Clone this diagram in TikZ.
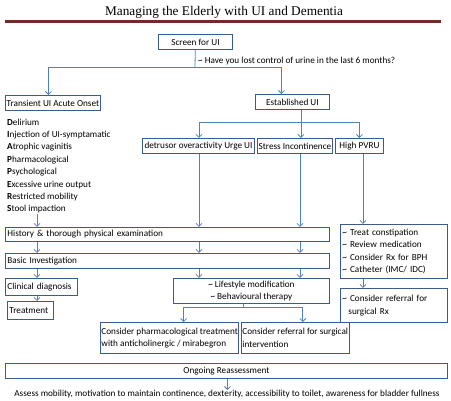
\documentclass[tikz,border=0pt]{standalone}
\usepackage{fontspec}
\setmainfont{Carlito}
\newfontfamily\titlefont{Liberation Serif}
\usepackage{xcolor}
\definecolor{boxline}{RGB}{56,93,138}
\definecolor{flow}{RGB}{79,129,189}
\definecolor{titlerule}{RGB}{118,40,40}
\usepackage{tikz}
\usetikzlibrary{arrows.meta, positioning, calc}

\begin{document}
\begin{tikzpicture}[x=1pt, y=-1pt,
        box/.style={draw=boxline, line width=0.9pt, anchor=north west, inner xsep=2pt, inner ysep=0pt, font=\fontsize{9.2}{12.4}\selectfont},
        lbox/.style={box, align=left, text width=#1},
        arr/.style={draw=flow, line width=0.8pt, -{Straight Barb[length=3pt, width=6pt]}},
        link/.style={draw=flow, line width=0.8pt},
        plain/.style={inner sep=0pt, font=\fontsize{9.2}{12.4}\selectfont}
    ]
        \useasboundingbox (0,0) rectangle (451,401);

        % title
        \node[font=\titlefont\fontsize{13.3}{15}\selectfont] (title) at (224,12) {Managing the Elderly with UI and Dementia};
        \draw[titlerule, line width=3] (5,22) -- (441,22);

        % screening
        \node[box, minimum width=74, minimum height=15] (screen) at (158,34) {Screen for UI};
        \node[plain, anchor=west] (question) at (198,61) {\textasciitilde{} Have you lost control of urine in the last 6 months?};

        \node[box, minimum width=95, minimum height=15, inner xsep=1pt] (transient) at (5,95) {Transient UI Acute Onset};
        \node[box, minimum width=74, minimum height=15] (established) at (255,94) {Established UI};

        \node[plain, anchor=north west, align=left] (mnemonic) at (7,118.5) {
            \textbf{D}elirium\\
            \textbf{I}njection of UI-symptamatic\\
            \textbf{A}trophic vaginitis\\
            \textbf{P}harmacological\\
            \textbf{P}sychological\\
            \textbf{E}xcessive urine output\\
            \textbf{R}estricted mobility\\
            \textbf{S}tool impaction
        };

        \node[box, minimum width=112, minimum height=15, inner xsep=1pt] (detrusor) at (142,138) {detrusor overactivity Urge UI};
        \node[box, minimum width=75, minimum height=15, inner xsep=1pt] (stress) at (257,138) {Stress Incontinence};
        \node[box, minimum width=48, minimum height=15] (pvru) at (335,138) {High PVRU};

        % assessment
        \node[lbox=320, minimum height=14] (history) at (5,227) {History \& thorough physical examination};
        \node[lbox=320, minimum height=15] (basic) at (5,253) {Basic Investigation};
        \node[lbox=68, minimum height=17] (clinical) at (5,278) {Clinical diagnosis};
        \node[lbox=42, minimum height=18] (treatment) at (7,301) {Treatment};
        \node[box, minimum width=156, minimum height=25, align=center] (lifestyle) at (173,278) {\textasciitilde{} Lifestyle modification\\\textasciitilde{} Behavioural therapy};
        \node[box, minimum width=138, minimum height=31, inner xsep=1pt, align=left] (pharm) at (100,322) {Consider pharmacological treatment\\with anticholinergic / mirabegron};
        \node[box, minimum width=107, minimum height=31, inner xsep=1pt, align=left] (surgical) at (241,322) {Consider referral for surgical\\intervention};

        \node[lbox=103, minimum height=54] (treat) at (340,224) {\textasciitilde{} Treat constipation\\\textasciitilde{} Review medication\\\textasciitilde{} Consider Rx for BPH\\\textasciitilde{} Catheter (IMC/ IDC)};
        \node[lbox=103, minimum height=34] (referral) at (340,288) {\textasciitilde{} Consider referral for\\\hspace*{6pt}surgical Rx};

        % reassessment
        \node[box, minimum width=442, minimum height=15] (ongoing) at (5,363) {Ongoing Reassessment};
        \node[plain, anchor=north] (assess) at (227,390) {Assess mobility, motivation to maintain continence, dexterity, accessibility to toilet, awareness for bladder fullness};

        % connectors
        \coordinate (colL) at (37,0);
        \coordinate (colM) at (199,0);
        \coordinate (colR) at (300,0);
        \coordinate (colP) at (363,0);
        \coordinate (split) at (195,67);

        \draw[link] (screen) -- (split);
        \draw[arr] (split) -| ([xshift=-4.5]transient.north);
        \draw[arr] (split) -| ([xshift=-11]established.north);

        \draw[link] ([xshift=8.5]established.south) -- ++(0,13) coordinate (split2);
        \draw[arr] (split2) -| (detrusor.north -| colM);
        \draw[arr] (split2) -- (stress.north -| split2);
        \draw[arr] (split2) -| (pvru.north);

        \draw[arr] (mnemonic.south -| colL) -- (history.north -| colL);
        \draw[arr] (detrusor.south -| colM) -- (history.north -| colM);
        \draw[arr] (stress.south -| colR) -- (history.north -| colR);
        \foreach \c in {colL,colM,colR}
            \draw[arr] (history.south -| \c) -- (basic.north -| \c);
        \draw[arr] (basic.south -| colL) -- (clinical.north -| colL);
        \foreach \c in {colM,colR}
            \draw[arr] (basic.south -| \c) -- (lifestyle.north -| \c);
        \draw[arr] (clinical.south -| colL) -- (treatment.north -| colL);

        \draw[arr] (pvru.south -| colP) -- (treat.north -| colP);
        \draw[arr] (treat.south -| colP) -- (referral.north -| colP);

        \draw[link] ([xshift=-8]lifestyle.south) -- ++(0,4) coordinate (split3);
        \draw[arr] (split3) -| ([xshift=14]pharm.north);
        \draw[arr] (split3) -| ([xshift=7.5]surgical.north);

        \draw[arr] ([xshift=1]ongoing.south) -- ([xshift=1]ongoing.south |- assess.north);
\end{tikzpicture}
\end{document}
